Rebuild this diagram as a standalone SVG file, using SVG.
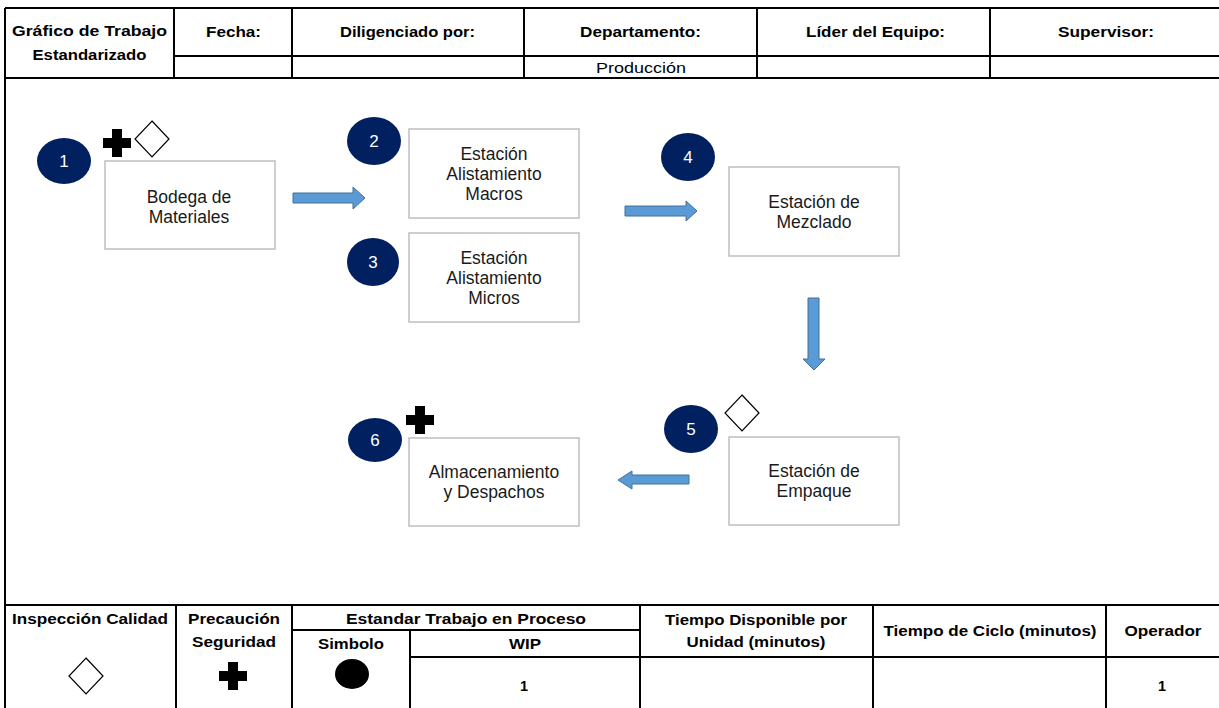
<svg xmlns="http://www.w3.org/2000/svg" width="1219" height="708" viewBox="0 0 1219 708">
<style>
.tb{font-family:"Liberation Sans",Arial,sans-serif;font-size:14.5px;font-weight:bold;fill:#000;text-anchor:middle}
.tn{font-family:"Liberation Sans",Arial,sans-serif;font-size:15px;fill:#000;text-anchor:middle}
.nt{font-family:"Liberation Sans",Arial,sans-serif;font-size:17.5px;fill:#1a1a1a;text-anchor:middle}
.num{font-family:"Liberation Sans",Arial,sans-serif;font-size:17px;fill:#fff;text-anchor:middle}
.grid{stroke:#000;stroke-width:2;fill:none}
.box{fill:#fff;stroke:#bfbfbf;stroke-width:1.5}
.badge{fill:#002060}
.arr{fill:#5b9bd5;stroke:#41719c;stroke-width:1}
</style>
<defs>
<path id="plus" d="M-5,-14 h10 v9 h9 v10 h-9 v9 h-10 v-9 h-9 v-10 h9 z" fill="#000"/>
<path id="diam" d="M0,-18 L17,0 L0,18 L-17,0 Z" fill="#fff" stroke="#000" stroke-width="1.2"/>
</defs>
<rect width="1219" height="708" fill="#fff"/>

<g id="header-table">
<path class="grid" d="M5,8 H1219 M5,78 H1219 M174,56 H1219 M5,8 V708 M174,8 V78 M292,8 V78 M524,8 V78 M757,8 V78 M990,8 V78"/>
<text class="tb" x="89.5" y="36" textLength="155" lengthAdjust="spacingAndGlyphs">Gráfico de Trabajo</text>
<text class="tb" x="89.5" y="60" textLength="114" lengthAdjust="spacingAndGlyphs">Estandarizado</text>
<text class="tb" x="233.5" y="37" textLength="55" lengthAdjust="spacingAndGlyphs">Fecha:</text>
<text class="tb" x="407.5" y="37" textLength="135" lengthAdjust="spacingAndGlyphs">Diligenciado por:</text>
<text class="tb" x="640.5" y="37" textLength="121" lengthAdjust="spacingAndGlyphs">Departamento:</text>
<text class="tb" x="875.5" y="37" textLength="139" lengthAdjust="spacingAndGlyphs">Líder del Equipo:</text>
<text class="tb" x="1106" y="37" textLength="96" lengthAdjust="spacingAndGlyphs">Supervisor:</text>
<text class="tn" x="641" y="73" textLength="90" lengthAdjust="spacingAndGlyphs">Producción</text>
</g>

<g id="connectors">
<path class="arr" d="M293,193 H353 V187 L365,198 L353,209 V203 H293 Z"/>
<path class="arr" d="M625,206 H686 V201 L697,211 L686,221 V216 H625 Z"/>
<path class="arr" d="M808,298 H819 V359 H825 L814,370 L803,359 H808 Z"/>
<path class="arr" d="M689,475 H632 V471 L618,480 L632,489 V484 H689 Z"/>
</g>

<g id="node1">
<rect class="box" x="105" y="161" width="170" height="88"/>
<text class="nt" x="189" y="203">Bodega de</text>
<text class="nt" x="189" y="223">Materiales</text>
<ellipse class="badge" cx="64" cy="161" rx="27" ry="23"/>
<text class="num" x="64" y="167">1</text>
<use href="#plus" x="117" y="143"/>
<use href="#diam" x="152" y="139"/>
</g>

<g id="node2">
<rect class="box" x="409" y="129" width="170" height="89"/>
<text class="nt" x="494" y="160">Estación</text>
<text class="nt" x="494" y="180">Alistamiento</text>
<text class="nt" x="494" y="200">Macros</text>
<ellipse class="badge" cx="374" cy="141" rx="27" ry="24"/>
<text class="num" x="374" y="147">2</text>
</g>

<g id="node3">
<rect class="box" x="409" y="233" width="170" height="89"/>
<text class="nt" x="494" y="264">Estación</text>
<text class="nt" x="494" y="284">Alistamiento</text>
<text class="nt" x="494" y="304">Micros</text>
<ellipse class="badge" cx="373" cy="262" rx="26" ry="24"/>
<text class="num" x="373" y="268">3</text>
</g>

<g id="node4">
<rect class="box" x="729" y="167" width="170" height="89"/>
<text class="nt" x="814" y="208">Estación de</text>
<text class="nt" x="814" y="228">Mezclado</text>
<ellipse class="badge" cx="688" cy="157" rx="27" ry="24"/>
<text class="num" x="688" y="163">4</text>
</g>

<g id="node5">
<rect class="box" x="729" y="437" width="170" height="88"/>
<text class="nt" x="814" y="477">Estación de</text>
<text class="nt" x="814" y="497">Empaque</text>
<ellipse class="badge" cx="691" cy="429" rx="27" ry="24"/>
<text class="num" x="691" y="435">5</text>
<use href="#diam" x="742" y="413"/>
</g>

<g id="node6">
<rect class="box" x="409" y="438" width="170" height="88"/>
<text class="nt" x="494" y="478">Almacenamiento</text>
<text class="nt" x="494" y="498">y Despachos</text>
<ellipse class="badge" cx="375" cy="440" rx="27" ry="22"/>
<text class="num" x="375" y="446">6</text>
<use href="#plus" x="420" y="420"/>
</g>

<g id="bottom-table">
<path class="grid" d="M5,605 H1219 M292,630 H640 M410,657 H1219 M176,605 V708 M292,605 V708 M410,630 V708 M640,605 V708 M873,605 V708 M1106,605 V708"/>
<text class="tb" x="90" y="624" textLength="156" lengthAdjust="spacingAndGlyphs">Inspección Calidad</text>
<text class="tb" x="234" y="624" textLength="92" lengthAdjust="spacingAndGlyphs">Precaución</text>
<text class="tb" x="234" y="647" textLength="84" lengthAdjust="spacingAndGlyphs">Seguridad</text>
<text class="tb" x="466" y="624" textLength="240" lengthAdjust="spacingAndGlyphs">Estandar Trabajo en Proceso</text>
<text class="tb" x="351" y="649" textLength="66" lengthAdjust="spacingAndGlyphs">Simbolo</text>
<text class="tb" x="525" y="649" textLength="32" lengthAdjust="spacingAndGlyphs">WIP</text>
<text class="tb" x="756" y="625" textLength="182" lengthAdjust="spacingAndGlyphs">Tiempo Disponible por</text>
<text class="tb" x="756" y="647" textLength="139" lengthAdjust="spacingAndGlyphs">Unidad (minutos)</text>
<text class="tb" x="990" y="636" textLength="213" lengthAdjust="spacingAndGlyphs">Tiempo de Ciclo (minutos)</text>
<text class="tb" x="1163" y="636" textLength="77" lengthAdjust="spacingAndGlyphs">Operador</text>
<text class="tb" x="524" y="691">1</text>
<text class="tb" x="1162" y="691">1</text>
<use href="#diam" x="86" y="676"/>
<use href="#plus" x="233" y="676"/>
<ellipse cx="352" cy="674" rx="17" ry="15" fill="#000"/>
</g>
</svg>
